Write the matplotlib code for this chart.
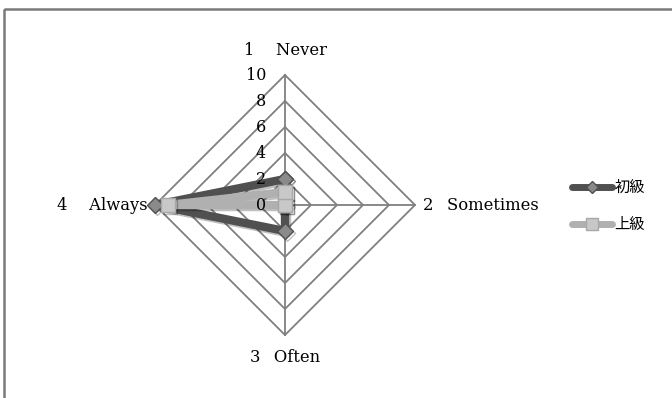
import numpy as np
import matplotlib
matplotlib.use("Agg")
from matplotlib import pyplot as plt
from matplotlib import patheffects as pe

# categories around the radar, clockwise from top
categories = ["1\u2003 Never", "2\u2002 Sometimes", "3\u2002 Often", "4\u2003 Always"]
series_names = ["初級", "上級"]
beginner = [2, 0, 2, 10]
advanced = [1, 0, 0, 9]
ticks = [0, 2, 4, 6, 8, 10]

W, H = 672, 398
cx, cy = 285, 205          # centre in pixels
unit = 13.0                # pixels per data unit

fig = plt.figure(figsize=(W / 100, H / 100), dpi=100)
ax = fig.add_axes([0, 0, 1, 1])
ax.set_xlim(-cx / unit, (W - cx) / unit)
ax.set_ylim(-(H - cy) / unit, cy / unit)
ax.axis("off")

angles = np.arange(len(categories)) * 2 * np.pi / len(categories)


def to_xy(vals):
    vals = np.asarray(vals, dtype=float)
    x = vals * np.sin(angles)
    y = vals * np.cos(angles)
    return np.append(x, x[0]), np.append(y, y[0])


grid_col = "#808080"
# rings
for t in ticks[1:]:
    gx, gy = to_xy([t] * 4)
    ax.plot(gx, gy, color=grid_col, lw=1.3, zorder=1)
# spokes
rmax = ticks[-1]
for a in angles:
    ax.plot([0, rmax * np.sin(a)], [0, rmax * np.cos(a)], color=grid_col, lw=1.3, zorder=1)

serif = "DejaVu Serif"
fs = 11.8
# radial tick labels
for t in ticks:
    ax.text(-1.45, t, str(t), ha="right", va="center", fontsize=11.5, family=serif, zorder=5)

# category labels
ax.text(0, rmax + 1.2, categories[0], ha="center", va="bottom", fontsize=fs, family=serif)
ax.text(rmax + 0.6, 0, categories[1], ha="left", va="center", fontsize=fs, family=serif)
ax.text(0, -rmax - 1.1, categories[2], ha="center", va="top", fontsize=fs, family=serif)
ax.text(-rmax - 0.6, 0, categories[3], ha="right", va="center", fontsize=fs, family=serif)

shadow = [pe.SimpleLineShadow(offset=(1.5, -1.5), shadow_color="#000000", alpha=0.25), pe.Normal()]

styles = [
    dict(color="#505050", marker="D", mfc="#8a8a8a", mec="#505050", ms=8),
    dict(color="#b0b0b0", marker="s", mfc="#c8c8c8", mec="#a8a8a8", ms=10),
]
for vals, st, z in zip([beginner, advanced], styles, [3, 4]):
    x, y = to_xy(vals)
    ax.plot(x, y, lw=6, solid_joinstyle="round", solid_capstyle="round",
            path_effects=shadow, zorder=z, **st)

# legend (drawn by hand to mimic the office style)
leg_font = ["Noto Sans CJK JP", "DejaVu Sans"]
for i, (name, st) in enumerate(zip(series_names, styles)):
    ly = cy - 187 if i == 0 else cy - 224
    y0 = ly / unit
    x0 = (572 - cx) / unit
    x1 = (612 - cx) / unit
    ax.plot([x0, x1], [y0, y0], lw=5, solid_capstyle="round", color=st["color"])
    ax.plot([(x0 + x1) / 2], [y0], marker=st["marker"], mfc=st["mfc"], mec=st["mec"],
            ms=st["ms"] - 2, lw=0)
    ax.text(x1 + 0.2, y0, name, ha="left", va="center", fontsize=11, family=leg_font)

# outer chart frame
frame = plt.Rectangle((4 / W, 1 - 9 / H), 1.0, -1.0, transform=fig.transFigure,
                      fill=False, ec="#7a7a7a", lw=1.8)
fig.patches.append(frame)

fig.savefig("out.png", dpi=100)
